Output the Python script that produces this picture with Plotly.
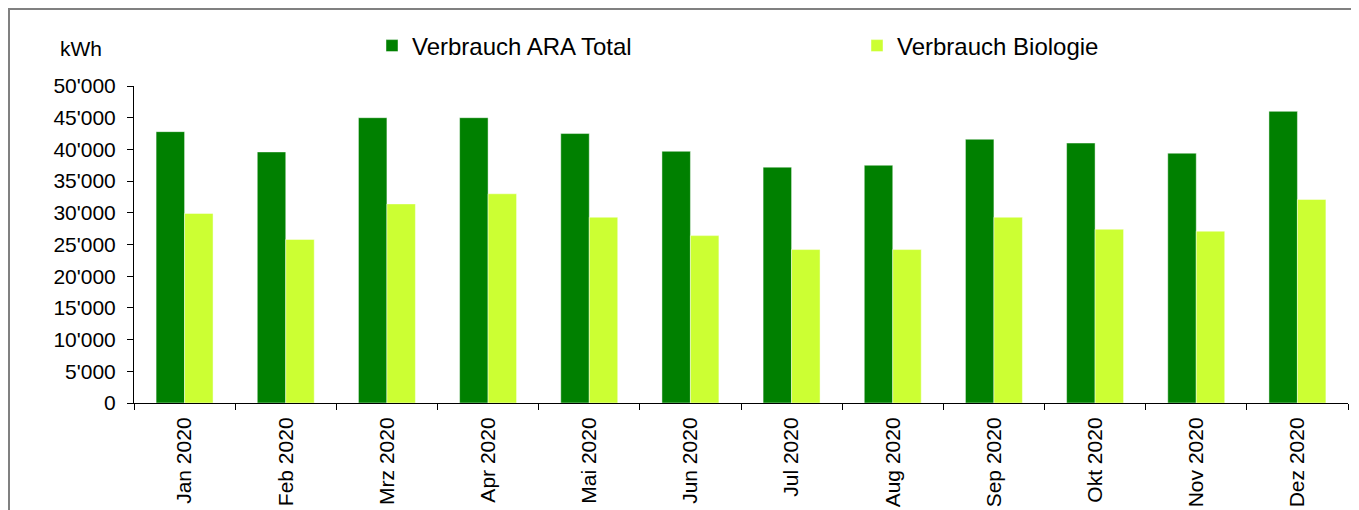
import plotly.graph_objects as go

months = ["Jan 2020", "Feb 2020", "Mrz 2020", "Apr 2020", "Mai 2020", "Jun 2020",
          "Jul 2020", "Aug 2020", "Sep 2020", "Okt 2020", "Nov 2020", "Dez 2020"]
ara_total = [42800, 39600, 45000, 45000, 42500, 39700, 37200, 37500, 41600, 41000, 39400, 46000]
biologie = [29900, 25800, 31400, 33000, 29300, 26400, 24200, 24200, 29300, 27400, 27100, 32100]
y_ticks = [0, 5000, 10000, 15000, 20000, 25000, 30000, 35000, 40000, 45000, 50000]

# page has an 8px body margin, so the figure is drawn 8px smaller and offset
OFF = 8
W, H = 1359 - OFF, 510 - OFF
L, R, T, B = 134 - OFF, 11, 86 - OFF, 107
pw, ph = W - L - R, H - T - B

FONT = "Liberation Sans, Arial, sans-serif"

fig = go.Figure()
fig.add_trace(go.Bar(x=months, y=ara_total, name="Verbrauch ARA Total",
                     marker=dict(color="#008000", line=dict(color="rgba(255,255,255,0.45)", width=1))))
fig.add_trace(go.Bar(x=months, y=biologie, name="Verbrauch Biologie",
                     marker=dict(color="#CCFF33", line=dict(color="rgba(255,255,255,0.45)", width=1))))

def px_x(p):
    # p in page pixels
    return (p - OFF - L) / pw

def px_y(p):
    return (H - B - (p - OFF)) / ph

fig.add_shape(type="rect", xref="paper", yref="paper",
              x0=px_x(9), x1=px_x(1380), y0=px_y(540), y1=px_y(9),
              line=dict(color="#808080", width=2), fillcolor="rgba(0,0,0,0)", layer="below")

fig.add_annotation(text="kWh", xref="paper", yref="paper", x=px_x(81), y=px_y(48),
                   xanchor="center", yanchor="middle", showarrow=False,
                   font=dict(family=FONT, size=21, color="black"))

fig.update_layout(
    width=W, height=H,
    margin=dict(l=L, r=R, t=T, b=B, autoexpand=False),
    paper_bgcolor="white", plot_bgcolor="white",
    barmode="group", bargap=0.437, bargroupgap=0,
    separators=".'",
    font=dict(family=FONT, size=21, color="black"),
    showlegend=True,
    legend=dict(orientation="h", xref="container", yref="container",
                x=(372 - OFF) / W, y=1 - (46 - OFF) / H, xanchor="left", yanchor="middle",
                entrywidth=440, entrywidthmode="pixels",
                font=dict(family=FONT, size=24, color="black"),
                bgcolor="rgba(0,0,0,0)", borderwidth=0),
    xaxis=dict(type="category", tickangle=-90, ticks="outside", ticklen=6, tickwidth=1,
               tickcolor="black", tickson="boundaries", showline=True, linecolor="black",
               linewidth=1, showgrid=False, ticklabelstandoff=5,
               tickfont=dict(family=FONT, size=21, color="black")),
    yaxis=dict(range=[0, 50000], tickvals=y_ticks, tickformat=",d", ticks="outside",
               ticklen=6, tickwidth=1, tickcolor="black", showline=True, linecolor="black",
               linewidth=1, showgrid=False, zeroline=False, ticklabelstandoff=7,
               tickfont=dict(family=FONT, size=21, color="black")),
)

fig.write_html("out.html")
